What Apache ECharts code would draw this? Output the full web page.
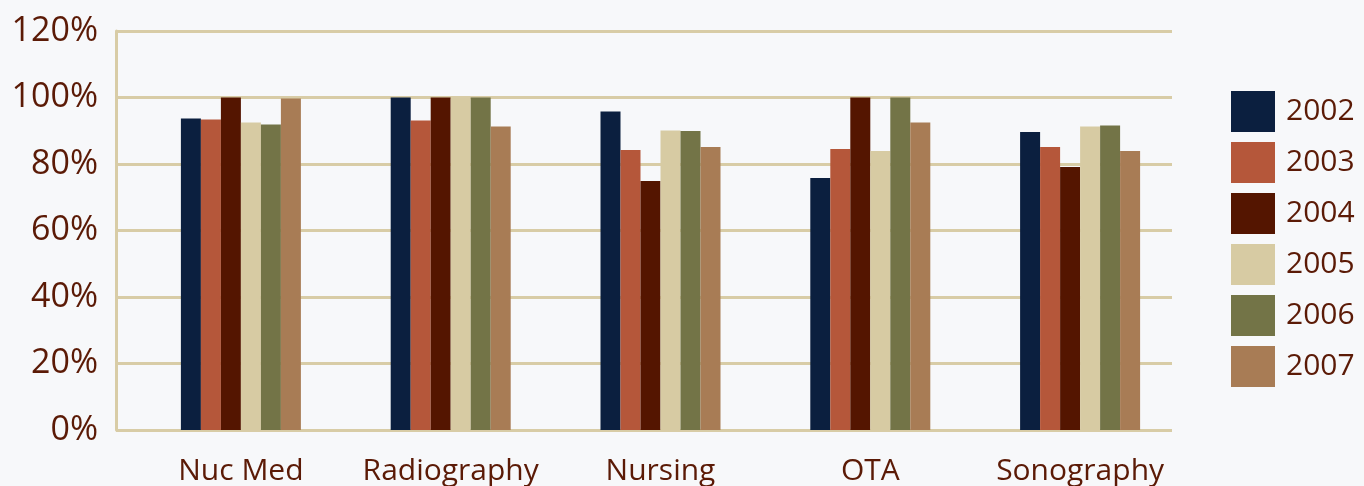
<!DOCTYPE html>
<html>
<head>
<meta charset="utf-8">
<script src="https://cdn.jsdelivr.net/npm/echarts@6/dist/echarts.min.js"></script>
<style>
html,body{margin:0;padding:0;background:#f7f8fa;}
#c{width:1364px;height:486px;}
</style>
</head>
<body>
<div id="c"></div>
<script>
const categories = ['Nuc Med', 'Radiography', 'Nursing', 'OTA', 'Sonography'];
const years = ['2002', '2003', '2004', '2005', '2006', '2007'];
const v2002 = [93.7, 100, 95.8, 75.8, 89.6];
const v2003 = [93.4, 93.1, 84.2, 84.5, 85.1];
const v2004 = [100, 100, 74.9, 100, 79.1];
const v2005 = [92.5, 100, 90.1, 83.9, 91.3];
const v2006 = [91.9, 100, 89.9, 100, 91.6];
const v2007 = [99.7, 91.3, 85.1, 92.5, 83.9];
const yTicks = [0, 20, 40, 60, 80, 100, 120];

const seriesValues = [v2002, v2003, v2004, v2005, v2006, v2007];
const colors = ['#0b1f3f', '#b5573a', '#541500', '#d7cba3', '#737447', '#a87c55'];
const textColor = '#5b1a06';
const lineColor = '#d8cca6';
const font = 'Open Sans';

const chart = echarts.init(document.getElementById('c'));
chart.setOption({
  backgroundColor: '#f7f8fa',
  animation: false,
  grid: [
    {left: 116, right: 192, top: 31, bottom: 56},
    {left: 136, right: 179, top: 31, bottom: 56}
  ],
  legend: {
    orient: 'vertical',
    left: 1226,
    top: 86,
    itemWidth: 44,
    itemHeight: 41,
    itemGap: 10,
    icon: 'rect',
    data: years,
    textStyle: {color: textColor, fontSize: 30, fontFamily: font, padding: [6, 0, 0, 6]}
  },
  xAxis: [
    {gridIndex: 0, type: 'value', min: 0, max: 1, show: false},
    {
      gridIndex: 1, type: 'category', data: categories,
      axisLine: {show: false}, axisTick: {show: false},
      axisLabel: {color: textColor, fontSize: 30, fontFamily: font, margin: 26, interval: 0}
    }
  ],
  yAxis: [
    {
      gridIndex: 0, type: 'value', min: yTicks[0], max: yTicks[yTicks.length - 1], interval: 20,
      axisLine: {show: true, lineStyle: {color: lineColor, width: 3}},
      axisTick: {show: false},
      splitLine: {show: true, lineStyle: {color: lineColor, width: 3}},
      axisLabel: {color: textColor, fontSize: 34, fontFamily: font, margin: 18, formatter: '{value}%'}
    },
    {gridIndex: 1, type: 'value', min: 0, max: 120, show: false, splitLine: {show: false}}
  ],
  series: years.map((y, i) => ({
    name: y,
    type: 'bar',
    xAxisIndex: 1,
    yAxisIndex: 1,
    data: seriesValues[i],
    barWidth: 20,
    barGap: '0%',
    itemStyle: {color: colors[i]}
  }))
});
</script>
</body>
</html>
